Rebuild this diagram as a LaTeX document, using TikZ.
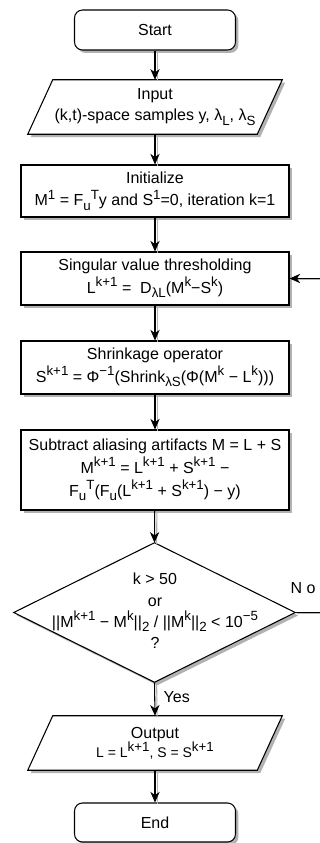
\documentclass[tikz,border=0pt]{standalone}
\usepackage{fontspec}
\setmainfont{Liberation Sans}
\usetikzlibrary{arrows.meta,shadows,calc}
\newcommand\up[1]{\raisebox{0.42em}{\fontsize{10}{10}\selectfont #1}}
\newcommand\dn[1]{\raisebox{-0.28em}{\fontsize{10}{10}\selectfont #1}}
\tikzset{
  shad/.style={drop shadow={shadow xshift=2.2pt,shadow yshift=-2.2pt,fill=black!30,opacity=1}},
  procbox/.style={draw,line width=0.8pt,fill=white,shad,minimum width=201pt,align=center,inner sep=2pt,font=\fontsize{12}{17}\selectfont},
  termbox/.style={procbox,rounded corners=6pt,minimum width=120.75pt,minimum height=30pt},
  iobox/.style={align=center,inner sep=0pt,minimum width=190.5pt,minimum height=40.5pt,font=\fontsize{12}{16}\selectfont},
  conn/.style={line width=0.8pt,-{Stealth[length=8pt,width=7pt,inset=2.5pt]},
    preaction={draw=black!30,line width=0.8pt,-,transform canvas={xshift=1.6pt,yshift=-1pt}}},
  outline/.style={draw,line width=0.8pt,fill=white,shad},
}
\begin{document}
\begin{tikzpicture}[x=0.75pt,y=-0.75pt]
\useasboundingbox (0,0) rectangle (320,843);
% terminal start
\node[termbox] (start) at (155,30) {Start};
% input parallelogram
\node[iobox] (inp) at (155,107) {};
\path[outline] ($(inp.north west)+(25,0)$) -- (inp.north east) -- ($(inp.south east)-(25,0)$) -- (inp.south west) -- cycle;
\node[iobox] at (155,107) {Input\\(k,t)-space samples y, λ\dn{L}, λ\dn{S}};
% initialize
\node[procbox,minimum height=39pt] (init) at (155,191) {Initialize\\M\up{1} = F\dn{u}\up{T}y and S\up{1}=0, iteration k=1};
% SVT
\node[procbox,minimum height=39.75pt] (svt) at (155,278.5) {Singular value thresholding\\L\up{k+1} =\ \ D\dn{λL}(M\up{k}−S\up{k})};
% shrinkage
\node[procbox,minimum height=39.75pt] (shr) at (155,367.5) {Shrinkage operator\\S\up{k+1} = Φ\up{−1}(Shrink\dn{λS}(Φ(M\up{k} − L\up{k})))};
% subtract
\node[procbox,minimum height=60pt] (sub) at (155,470) {Subtract aliasing artifacts M = L + S\\M\up{k+1} = L\up{k+1} + S\up{k+1} −\\F\dn{u}\up{T}(F\dn{u}(L\up{k+1} + S\up{k+1}) − y)};
% decision diamond
\node[inner sep=0pt,minimum width=210.75pt,minimum height=104.25pt] (dia) at (154.5,612.5) {};
\path[outline] (dia.north) -- (dia.east) -- (dia.south) -- (dia.west) -- cycle;
\node[align=center,font=\fontsize{12}{16}\selectfont] at (155,611) {k > 50\\or\\||M\up{k+1} − M\up{k}||\dn{2} / ||M\up{k}||\dn{2} < 10\up{−5}\\?};
% output
\node[iobox] (outp) at (155,743) {};
\path[outline] ($(outp.north west)+(25,0)$) -- (outp.north east) -- ($(outp.south east)-(25,0)$) -- (outp.south west) -- cycle;
\node[iobox,font=\fontsize{12}{14.5}\selectfont] at (155,743) {Output\\{\fontsize{10.5}{14}\selectfont L = L\up{k+1}, S = S\up{k+1}}};
% end
\node[termbox,minimum height=29.25pt] (stop) at (155,822.5) {End};
% connectors
\draw[conn] (start) -- (inp.north);
\draw[conn] (inp.south) -- (init);
\draw[conn] (init) -- (svt);
\draw[conn] (svt) -- (shr);
\draw[conn] (shr) -- (sub);
\draw[conn] (sub) -- (dia.north);
\draw[conn] (dia.south) -- node[right,pos=0.45,font=\fontsize{12}{14}\selectfont,xshift=3pt] (yes) {Yes} (outp.north);
\draw[conn] (outp.south) -- (stop);
\coordinate (loopc) at (345,612.5);
\draw[conn] (dia.east) -- (loopc) |- (svt.east);
\node[font=\fontsize{12}{14}\selectfont] (nolab) at (303,588) {N o};
\end{tikzpicture}
\end{document}
